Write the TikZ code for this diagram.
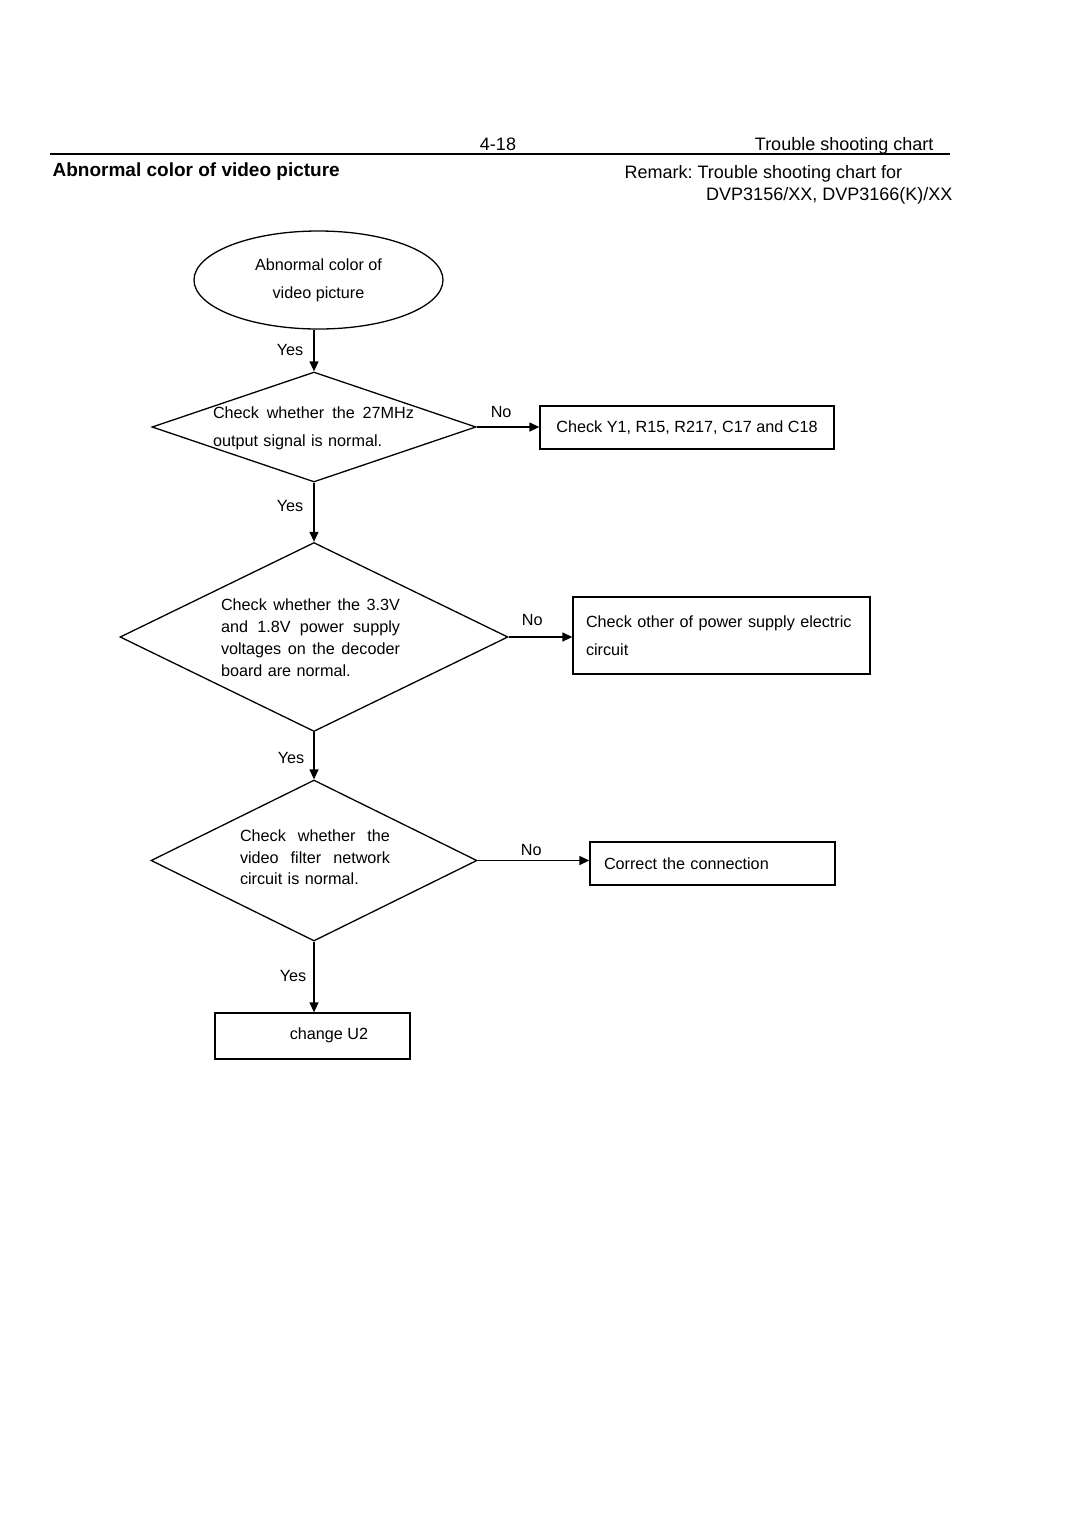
\documentclass[tikz,border=0pt]{standalone}
\usepackage{fontspec}
\setmainfont{Liberation Sans}
\usetikzlibrary{shapes.geometric,arrows.meta}
\frenchspacing

\newcommand{\fillline}[1]{\hbox to \hsize{\spaceskip=0pt plus 1fil\relax #1}\par}

\begin{document}
\begin{tikzpicture}[x=0.5pt,y=-0.5pt,line width=0.65pt,
    head/.style={inner sep=0pt,font=\fontsize{9}{11}\selectfont},
    txt/.style={inner sep=0pt,align=left},
    box/.style={draw,rectangle,inner sep=0pt},
    dec/.style={draw,diamond,inner sep=0pt},
    arr/.style={-{Triangle[length=5pt,width=4.5pt]}},
    lbl/.style={inner sep=0pt,font=\fontsize{8.1}{10}\selectfont},
    every node/.append style={font=\fontsize{8.1}{14}\selectfont}]
  \useasboundingbox (0,0) rectangle (1080,1528);
  % page header
  \draw (50,154) -- (950,154);
  \node[head,anchor=base] (page) at (498,150) {4-18};
  \node[head,anchor=base east] (chart) at (934,150) {Trouble shooting chart};
  \node[head,anchor=base west,font=\fontsize{9.5}{11}\selectfont\bfseries] (title) at (52,176) {Abnormal color of video picture};
  \node[head,anchor=base west] (remark) at (624,178) {Remark: Trouble shooting chart for};
  \node[head,anchor=base east] (models) at (953,200) {DVP3156/XX, DVP3166(K)/XX};

  % flow
  \node[draw,ellipse,minimum width=124.5pt,minimum height=49pt,inner sep=0pt,align=center] (start) at (318.5,280) {Abnormal color of\\video picture};

  \node[dec,minimum width=162pt,minimum height=55pt] (q1) at (314,427) {};
  \node[txt,text width=100.5pt] (q1t) at (313.5,428) {\fillline{Check whether the 27MHz}output signal is normal.};
  \node[box,minimum width=147pt,minimum height=21.5pt] (c1) at (687,427.5) {Check Y1, R15, R217, C17 and C18};

  \node[dec,minimum width=194pt,minimum height=94.5pt] (q2) at (314,637) {};
  \node[txt,text width=89.5pt,font=\fontsize{8.1}{11}\selectfont] (q2t) at (310.5,638) {\fillline{Check whether the 3.3V}\fillline{and 1.8V power supply}\fillline{voltages on the decoder}board are normal.};
  \node[box,align=left,text width=135.5pt,inner xsep=6.5pt,minimum height=38.5pt] (c2) at (721.5,635.5) {Check other of power supply electric\\circuit};

  \node[dec,minimum width=163pt,minimum height=80.5pt] (q3) at (314,860.5) {};
  \node[txt,text width=75pt,font=\fontsize{8.1}{10.75}\selectfont] (q3t) at (315,857.5) {\fillline{Check whether the}\fillline{video filter network}circuit is normal.};
  \node[box,align=left,text width=108.5pt,inner xsep=7pt,minimum height=21.5pt] (c3) at (712.5,863.5) {Correct the connection};

  \node[box,minimum width=97.5pt,minimum height=23pt] (u2) at (312.5,1036) {\raisebox{2pt}{\hspace*{16.5pt}change U2}};

  % connectors
  \draw[arr] (start.south -| q1.north) -- (q1.north) node[lbl,pos=0.49,xshift=-12pt] {Yes};
  \draw[arr] (q1.south) -- (q2.north) node[lbl,pos=0.4,xshift=-12pt] {Yes};
  \draw[arr] (q2.south) -- (q3.north) node[lbl,pos=0.55,xshift=-11.5pt] {Yes};
  \draw[arr] (q3.south) -- (q3.south |- u2.north) node[lbl,pos=0.49,xshift=-10.5pt] {Yes};
  \draw[arr] (q1.east) -- (q1.east -| c1.west) node[lbl,pos=0.39,yshift=7.5pt] {No};
  \draw[arr] (q2.east) -- (q2.east -| c2.west) node[lbl,pos=0.37,yshift=8.5pt] {No};
  \draw[arr] (q3.east) -- (q3.east -| c3.west) node[lbl,pos=0.48,yshift=5.5pt] {No};
\end{tikzpicture}
\end{document}
